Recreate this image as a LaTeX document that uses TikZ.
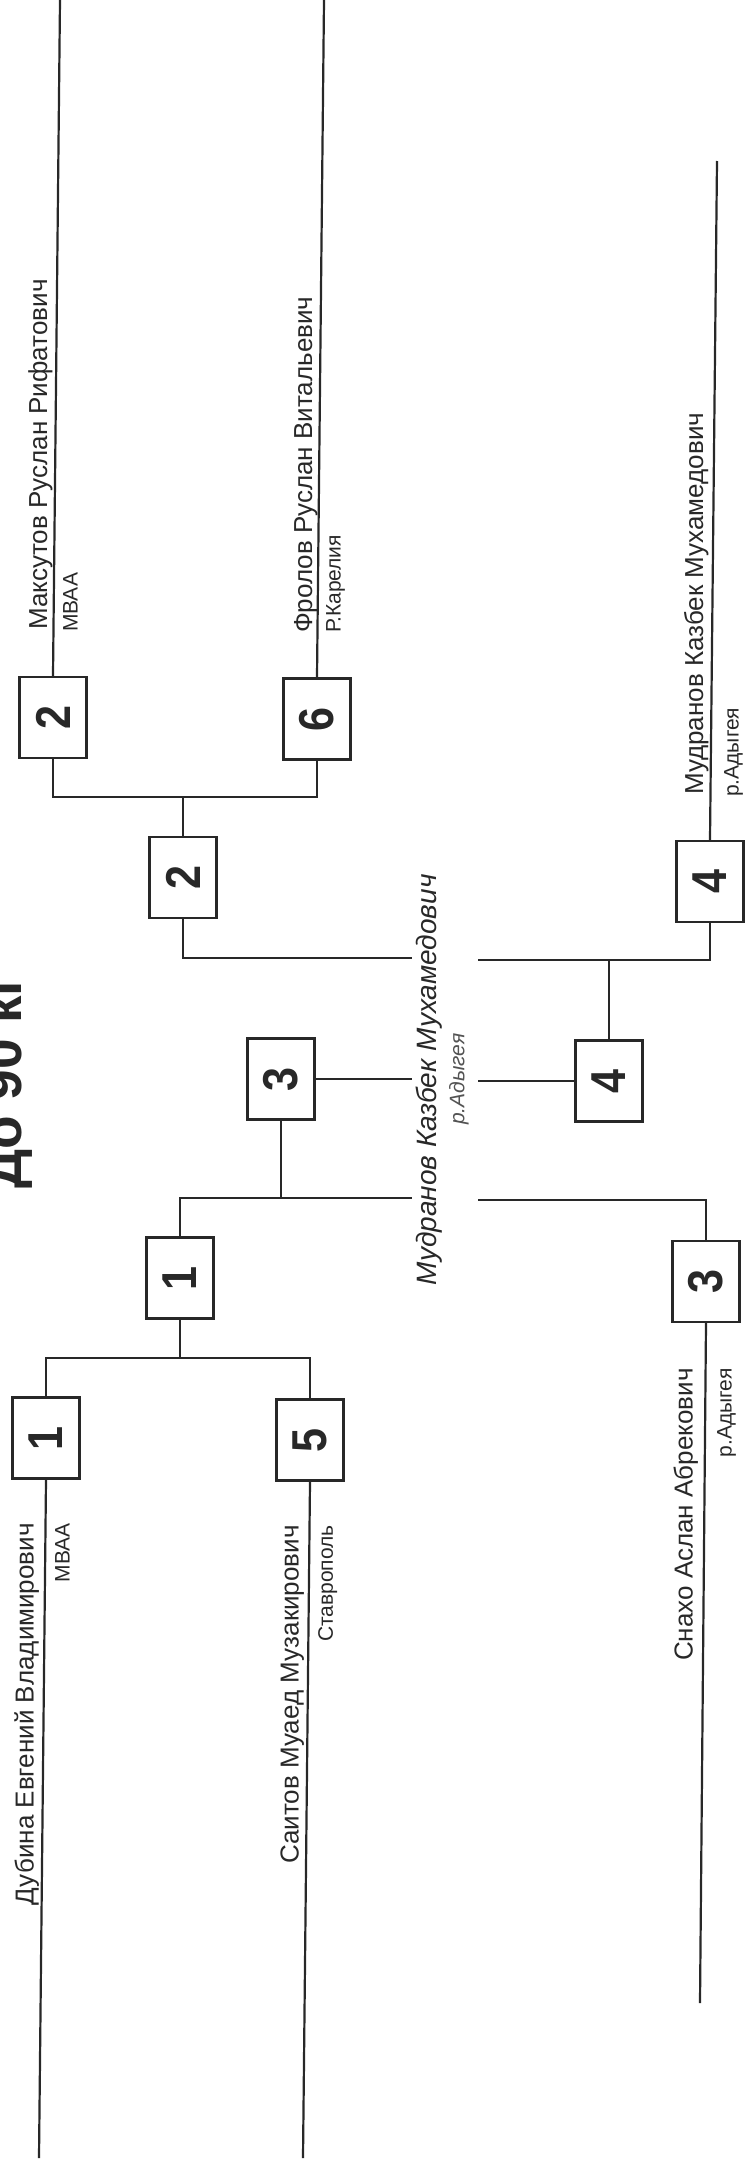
\documentclass[tikz,border=0pt]{standalone}
\usepackage{fontspec}
\setmainfont{Liberation Sans}
\usepackage{graphicx}
\definecolor{ink}{RGB}{40,40,40}
\tikzset{
  ln/.style={draw=ink, line width=2.2pt},
  rbox/.style={draw=ink, fill=white, line width=2.4pt, minimum width=67pt, minimum height=81pt, inner sep=0pt, font=\fontsize{49}{49}\selectfont\bfseries, text=ink},
  nm/.style={rotate=90, inner sep=0pt, font=\fontsize{26}{30}\selectfont, text=ink},
  club/.style={rotate=90, inner sep=0pt, font=\fontsize{21}{24}\selectfont, text=ink},
}
\newcommand{\dg}[1]{\rotatebox{90}{\scalebox{0.88}[1]{#1}}}
\begin{document}
\begin{tikzpicture}[x=1pt,y=-1pt]
\useasboundingbox (0,0) rectangle (748,2168);
\fill[white] (0,0) rectangle (748,2168);
\clip (0,0) rectangle (748,2168);

% title
\node[rotate=90, inner sep=0pt, font=\fontsize{55}{60}\selectfont\bfseries, text=ink, anchor=base] (title) at (21,1081) {До 90 кг};

% boxes
\node[rbox] (bA) at (53,717.5) {\dg{2}};
\node[rbox] (bB) at (317,719) {\dg{6}};
\node[rbox] (bR2a) at (183,877.5) {\dg{2}};
\node[rbox] (bC) at (710,881.5) {\dg{4}};
\node[rbox] (bR2b) at (609,1081) {\dg{4}};
\node[rbox] (bS) at (281,1079) {\dg{3}};
\node[rbox] (bR2c) at (180,1278) {\dg{1}};
\node[rbox] (bD) at (46,1438) {\dg{1}};
\node[rbox] (bE) at (310,1440) {\dg{5}};
\node[rbox] (bF) at (706,1281.5) {\dg{3}};

% free ends
\coordinate (endA) at (60,0);
\coordinate (endB) at (324,0);
\coordinate (endC) at (717,161);
\coordinate (endD) at (39,2158);
\coordinate (endE) at (303,2158);
\coordinate (endF) at (700,2003);
\coordinate (jAB) at (183,797);
\coordinate (jDE) at (180,1358);
\coordinate (jR) at (609,960);
\coordinate (jL) at (281,1198);
\coordinate (gTL) at (412,958);
\coordinate (gTR) at (478,960);
\coordinate (gML) at (412,1079);
\coordinate (gMR) at (478,1081);
\coordinate (gBL) at (412,1198);
\coordinate (gBR) at (478,1200);

% competitor lines
\draw[ln] (bA.north) -- (endA);
\draw[ln] (bB.north) -- (endB);
\draw[ln] (bC.north) -- (endC);
\draw[ln] (bD.south) -- (endD);
\draw[ln] (bE.south) -- (endE);
\draw[ln] (bF.south) -- (endF);

% brackets
\draw[ln] (bA.south) |- (jAB) -| (bB.south);
\draw[ln] (jAB) -- (bR2a.north);
\draw[ln] (bR2a.south) |- (gTL);
\draw[ln] (bC.south) |- (gTR);
\draw[ln] (jR) -- (bR2b.north);
\draw[ln] (bS.east) -- (gML);
\draw[ln] (bR2b.west) -- (gMR);
\draw[ln] (bR2c.north) |- (gBL);
\draw[ln] (jL) -- (bS.south);
\draw[ln] (bF.north) |- (gBR);
\draw[ln] (bD.north) |- (jDE) -| (bE.north);
\draw[ln] (jDE) -- (bR2c.south);

% names and clubs
\node[nm, anchor=base west] (nA) at (47,630) {Максутов Руслан Рифатович};
\node[club, anchor=north west] (cA) at (63,632) {МВАА};
\node[nm, anchor=base west] (nB) at (312,633) {Фролов Руслан Витальевич};
\node[club, anchor=north west] (cB) at (326,633) {Р.Карелия};
\node[nm, anchor=base west] (nC) at (703,795) {Мудранов Казбек Мухамедович};
\node[club, anchor=north west] (cC) at (724,797) {р.Адыгея};
\node[nm, anchor=base east] (nD) at (33.5,1523) {Дубина Евгений Владимирович};
\node[club, anchor=north east] (cD) at (55,1523) {МВАА};
\node[nm, anchor=base east] (nE) at (298.5,1525) {Саитов Муаед Музакирович};
\node[club, anchor=north east] (cE) at (318,1525) {Ставрополь};
\node[nm, anchor=base east] (nF) at (692.5,1368) {Снахо Аслан Абрекович};
\node[club, anchor=north east] (cF) at (717,1368) {р.Адыгея};

% winner
\node[rotate=90, inner sep=0pt, font=\fontsize{28}{32}\selectfont\itshape, text=ink, anchor=base] (win) at (436,1080) {Мудранов Казбек Мухамедович};
\node[rotate=90, inner sep=0pt, font=\fontsize{21}{24}\selectfont\itshape, text=ink!80, anchor=north] (winc) at (449,1079) {р.Адыгея};
\end{tikzpicture}
\end{document}
